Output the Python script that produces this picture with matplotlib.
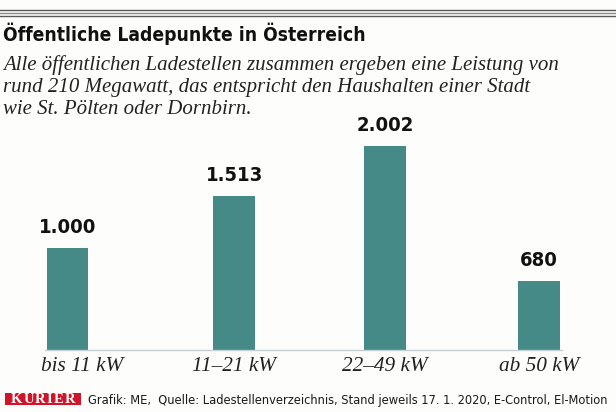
import matplotlib
matplotlib.use('Agg')
import matplotlib.pyplot as plt
from matplotlib.lines import Line2D
from matplotlib.patches import Rectangle
from matplotlib import font_manager as fm
import matplotlib.transforms as mtransforms

# ---- data ----
categories = ['bis 11 kW', '11–21 kW', '22–49 kW', 'ab 50 kW']
values = [1000, 1513, 2002, 680]
value_labels = ['1.000', '1.513', '2.002', '680']

title = 'Öffentliche Ladepunkte in Österreich'
subtitle_lines = [
    'Alle öffentlichen Ladestellen zusammen ergeben eine Leistung von',
    'rund 210 Megawatt, das entspricht den Haushalten einer Stadt',
    'wie St. Pölten oder Dornbirn.',
]
brand = 'KURIER'
source = 'Grafik: ME,  Quelle: Ladestellenverzeichnis, Stand jeweils 17. 1. 2020, E-Control, El-Motion'

# ---- fonts ----
COND = ('condensed', 'semi-condensed', 'extra-condensed', 'ultra-condensed')


def find_condensed(bold):
    best = None
    for f in fm.fontManager.ttflist:
        is_cond = (str(f.stretch) in COND or 'Narrow' in f.name
                   or 'Condensed' in f.name or 'ondensed' in f.fname)
        if not is_cond or f.style != 'normal':
            continue
        w = f.weight if isinstance(f.weight, int) else {'bold': 700, 'normal': 400}.get(f.weight, 400)
        score = abs(w - (700 if bold else 400))
        if best is None or score < best[0]:
            best = (score, f.fname)
    if best is not None and best[0] <= 100:
        return fm.FontProperties(fname=best[1])
    return fm.FontProperties(family=['Roboto', 'DejaVu Sans'],
                             weight='bold' if bold else 'normal')


NARROW_B = find_condensed(True)
NARROW_R = find_condensed(False)
SERIF = ['Liberation Serif', 'DejaVu Serif']

# ---- layout / style ----
W, H = 616, 412
BG = '#fdfdfb'
BAR = '#468a87'

fig = plt.figure(figsize=(W / 100, H / 100), dpi=100, facecolor=BG)
renderer = fig.canvas.get_renderer()


def fx(px):
    return px / W


def fy(py):
    return 1 - py / H


def fit(t, width_px):
    bb = t.get_window_extent(renderer)
    t.set_fontsize(t.get_fontsize() * width_px / bb.width)


# top triple rule
for yy, c in [(9.5, '#5a5a5a'), (12.5, '#8a8a8a'), (15.5, '#5a5a5a')]:
    fig.add_artist(Line2D([0, 1], [fy(yy), fy(yy)], transform=fig.transFigure,
                          color=c, lw=1.0))

# title and subtitle
t_title = fig.text(fx(3), fy(41), title, fontproperties=NARROW_B, fontsize=15,
                   color='#111111', va='baseline', ha='left')
fit(t_title, 362)
for i, line in enumerate(subtitle_lines):
    fig.text(fx(3), fy(70 + 22 * i), line, family=SERIF, style='italic',
             fontsize=15.0, color='#222222', va='baseline', ha='left')

# axes
x_pos = [0, 1.06, 2.02, 3.0]
ax_left, ax_right, ax_top, ax_bot = 45, 562, 110, 350
ax = fig.add_axes([fx(ax_left), fy(ax_bot), (ax_right - ax_left) / W,
                   (ax_bot - ax_top) / H])
ax.set_facecolor('none')
unit = 157.17
ax.set_xlim((ax_left - 67.5) / unit, (ax_right - 67.5) / unit)
ax.set_ylim(0, (ax_bot - ax_top) / 0.102)

ax.bar(x_pos, values, width=41.5 / unit, color=BAR, zorder=2)
vtexts = []
for x, v, lab in zip(x_pos, values, value_labels):
    vt = ax.annotate(lab, (x, v), xytext=(0, 10.8), textcoords='offset points',
                     ha='center', va='baseline', fontproperties=NARROW_B,
                     fontsize=15.5, color='#111111', annotation_clip=False)
    vtexts.append(vt)
fit(vtexts[0], 57)
for vt in vtexts[1:]:
    vt.set_fontsize(vtexts[0].get_fontsize())

for s in ['top', 'right', 'left']:
    ax.spines[s].set_visible(False)
ax.spines['bottom'].set_color('#c5cfd2')
ax.spines['bottom'].set_linewidth(1.0)
ax.set_yticks([])
ax.set_xticks(x_pos)
ax.set_xticklabels(categories, family=SERIF, style='italic', fontsize=15.3,
                   color='#222222')
ax.tick_params(axis='x', length=0, pad=5)
# first label sits slightly right of its bar in the original
lbl0 = ax.get_xticklabels()[0]
lbl0.set_transform(lbl0.get_transform() +
                   mtransforms.ScaledTranslation(15 / 100, 0, fig.dpi_scale_trans))

# footer: red brand box with letter-spaced name
fig.add_artist(Rectangle((fx(5), fy(405)), fx(76), (405 - 393) / H,
                         transform=fig.transFigure, color='#d0142a', lw=0))
letters = [fig.text(0, fy(403.2), ch, family=SERIF, weight='bold',
                    fontsize=10.5, color='white', ha='left', va='baseline')
           for ch in brand]
widths = [t.get_window_extent(renderer).width for t in letters]
span_l, span_r = 10.5, 75.5
gap = (span_r - span_l - sum(widths)) / (len(letters) - 1)
xx = span_l
for t, w in zip(letters, widths):
    t.set_x(fx(xx))
    xx += w + gap

t_src = fig.text(fx(88), fy(404), source, fontproperties=NARROW_R, fontsize=10,
                 color='#1a1a1a', ha='left', va='baseline')
fit(t_src, 523)

fig.savefig('out.png', dpi=100, facecolor=BG)
